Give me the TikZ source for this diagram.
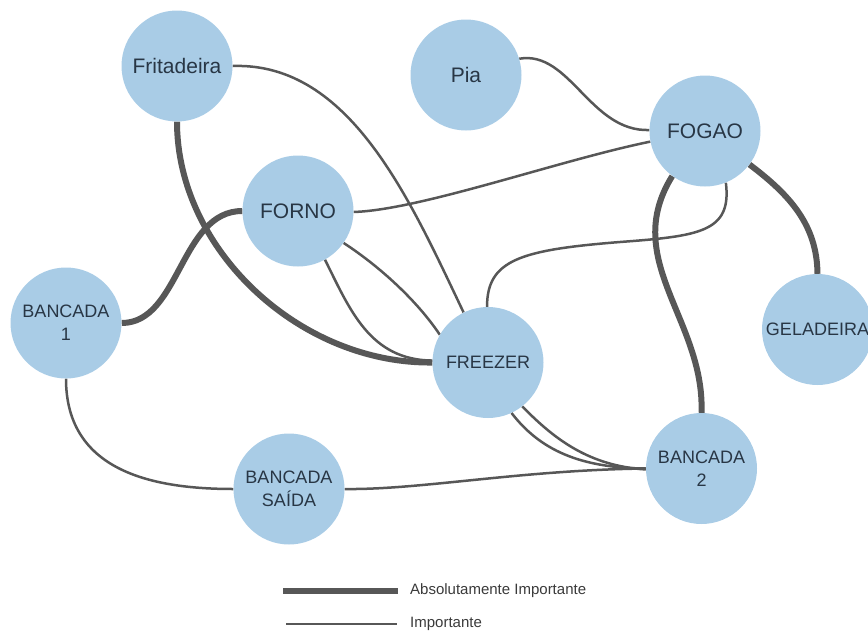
\documentclass[tikz,border=0pt]{standalone}
\usepackage{fontspec}
\setmainfont{Liberation Sans}
\usetikzlibrary{backgrounds}
\definecolor{nodeblue}{HTML}{A9CCE6}
\definecolor{nodetext}{HTML}{283645}
\definecolor{linkgray}{HTML}{575757}
\definecolor{legendtext}{HTML}{3A3A3A}
\tikzset{
  station/.style={circle, fill=nodeblue, inner sep=0pt, minimum size=111pt,
                  text=nodetext, align=center},
  bigname/.style={font=\fontsize{21}{25}\selectfont},
  smallname/.style={font=\fontsize{18}{23}\selectfont},
  important/.style={draw=linkgray, line width=2.5pt},
  vital/.style={draw=linkgray, line width=6pt},
  legendlabel/.style={anchor=west, inner sep=0pt, text=legendtext,
                      font=\fontsize{15}{18}\selectfont},
}
\begin{document}
\begin{tikzpicture}[x=1pt,y=-1pt]
\useasboundingbox (0,0) rectangle (868,632);

% kitchen stations
\node[station, bigname]   (fri)   at (177,66)    {Fritadeira};
\node[station, bigname]   (pia)   at (466,75)    {Pia};
\node[station, bigname]   (fogao) at (705,131)   {FOGAO};
\node[station, bigname]   (forno) at (298,211)   {FORNO};
\node[station, smallname] (b1)    at (66,323)    {BANCADA\\1};
\node[station, smallname] (frz)   at (488,362.5) {FREEZER};
\node[station, smallname] (gel)   at (817.5,329.5) {GELADEIRA};
\node[station, smallname] (b2)    at (701.5,468.5) {BANCADA\\2};
\node[station, smallname] (saida) at (289,489)   {BANCADA\\SAÍDA};

% links between stations
\begin{scope}[on background layer]
  \draw[important] (fri.0) .. controls (350,62) and (410,200) .. (frz.116);
  \draw[vital] (fri.-90) .. controls (177,250) and (300,364) .. (frz.180);
  \draw[vital] (b1.0) .. controls (180,323) and (180,211) .. (forno.180);
  \draw[important] (forno.-1) .. controls (420,210) and (560,160) .. (fogao.191);
  \draw[important] (pia.17) .. controls (570,50) and (590,132) .. (fogao.179);
  \draw[important] (fogao.-68) .. controls (732,232) and (700,236) .. (620,242)
                   .. controls (520,250) and (487,260) .. (frz.91);
  \draw[important] (forno.-35) .. controls (385,270) and (420,305) .. (frz.150);
  \draw[important] (forno.-61) .. controls (350,310) and (370,360) .. (frz.178);
  \draw[important] (frz.-65) .. controls (540,450) and (580,468) .. (b2.180);
  \draw[important] (frz.-52) .. controls (555,440) and (590,466) .. (b2.181);
  \draw[important] (saida.0) .. controls (420,490) and (520,470) .. (b2.180);
  \draw[important] (b1.-90) .. controls (66,470) and (150,489) .. (saida.180);
  \draw[vital] (fogao.-126) .. controls (620,260) and (705,320) .. (b2.90);
  \draw[vital] (fogao.-37) .. controls (790,195) and (817,225) .. (gel.90);
\end{scope}

% legend
\coordinate (lgvitalA) at (283,591);
\coordinate (lgvitalB) at (398,591);
\coordinate (lgimpA) at (286,624);
\coordinate (lgimpB) at (397,624);
\draw[vital] (lgvitalA) -- (lgvitalB);
\draw[important] (lgimpA) -- (lgimpB);
\node[legendlabel] (lgvitaltext) at (410,591) {Absolutamente Importante};
\node[legendlabel] (lgimptext) at (410,624) {Importante};
\end{tikzpicture}
\end{document}
